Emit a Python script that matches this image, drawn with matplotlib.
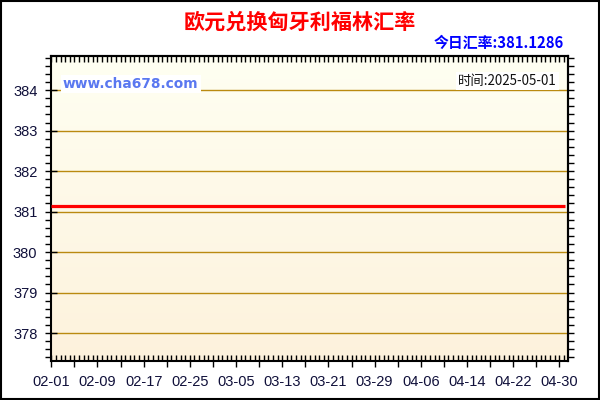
import numpy as np
import pandas as pd
import matplotlib
matplotlib.use("Agg")
import matplotlib.pyplot as plt
import matplotlib.dates as mdates
from matplotlib.ticker import MultipleLocator, FixedLocator, NullFormatter
from matplotlib.patches import Rectangle
from matplotlib.colors import LinearSegmentedColormap

# ================= DATA =================
title = "欧元兑换匈牙利福林汇率"
today_rate = "今日汇率:381.1286"
site = "www.cha678.com"
stamp = "时间:2025-05-01"

dates = ["2025-02-01", "2025-05-01"]
rates = [381.1286, 381.1286]
tick_labels = ["02-01", "02-09", "02-17", "02-25", "03-05", "03-13",
               "03-21", "03-29", "04-06", "04-14", "04-22", "04-30"]
y_ticks = [378, 379, 380, 381, 382, 383, 384]

cjk = ["Noto Sans CJK SC", "DejaVu Sans"]
plt.rcParams["font.family"] = ["Liberation Sans", "DejaVu Sans"]

x = pd.to_datetime(dates)
start = pd.Timestamp("2025-02-01")
xn = mdates.date2num(x)
x0 = mdates.date2num(start)

# ================= FIGURE =================
fig = plt.figure(figsize=(6, 4), dpi=100)
fig.patch.set_facecolor("white")
ax = fig.add_axes([51.3 / 600, 1 - 361 / 400, (568 - 51.3) / 600, (361 - 55.7) / 400])

# background gradient
cmap = LinearSegmentedColormap.from_list("bg", ["#fdf2dc", "#fffff2"])
ax.imshow(np.linspace(0, 1, 256).reshape(-1, 1), cmap=cmap, aspect="auto",
          extent=[0, 1, 0, 1], transform=ax.transAxes, origin="lower", zorder=0)

ax.set_xlim(x0, x0 + 89.5)
ax.set_ylim(377.31, 384.85)

for v in y_ticks:
    ax.axhline(v, color="#ba8a10", lw=1, zorder=1)

ax.plot(xn, rates, color="#ff0000", lw=2.3, zorder=3, solid_capstyle="butt")

# ---- ticks ----
major_x = [x0 + 4 * i for i in range(23)]
ax.xaxis.set_major_locator(FixedLocator(major_x))
ax.xaxis.set_minor_locator(MultipleLocator(0.8))
labels = []
for i in range(23):
    labels.append(tick_labels[i // 2] if i % 2 == 0 and i // 2 < len(tick_labels) else "")
ax.set_xticklabels(labels)
ax.yaxis.set_major_locator(FixedLocator(y_ticks))
ax.yaxis.set_minor_locator(MultipleLocator(0.2))
ax.yaxis.set_minor_formatter(NullFormatter())

ax.tick_params(axis="x", which="major", direction="inout", length=8, width=1,
               labelsize=10.5, labelcolor="#10103a", pad=6)
ax.tick_params(axis="x", which="minor", direction="in", length=4, width=1)
ax.tick_params(axis="y", which="major", direction="inout", length=8, width=1,
               labelsize=10.5, labelcolor="#10103a", pad=6)
ax.tick_params(axis="y", which="minor", direction="out", length=4, width=1)

for s in ax.spines.values():
    s.set_linewidth(1.5)
    s.set_color("black")

top = ax.secondary_xaxis("top")
top.xaxis.set_major_locator(MultipleLocator(0.8))
top.tick_params(direction="in", length=4, width=1, labeltop=False)
top.spines["top"].set_linewidth(1.5)

right = ax.secondary_yaxis("right")
right.yaxis.set_major_locator(MultipleLocator(0.2))
right.tick_params(direction="out", length=4, width=1, labelright=False)
right.spines["right"].set_linewidth(1.5)

# ---- texts ----
fig.text(0.5, 1 - 22 / 400, title, ha="center", va="center", color="#ff0000",
         fontsize=15.2, fontweight="bold", family=cjk)
fig.text(564 / 600, 1 - 43 / 400, today_rate, ha="right", va="center",
         color="#0000ff", fontsize=10.7, fontweight="bold", family=cjk)
ax.text(63 / 600, 1 - 84 / 400, site, transform=fig.transFigure, ha="left",
        va="center", color="#5a78f0", fontsize=9.9, fontweight="bold",
        family="DejaVu Sans", zorder=4,
        bbox=dict(facecolor="white", edgecolor="none", pad=1.5))
ax.text(557 / 600, 1 - 81 / 400, stamp, transform=fig.transFigure, ha="right",
        va="center", color="#111111", fontsize=9.6, family=cjk, zorder=4,
        bbox=dict(facecolor="white", edgecolor="none", pad=1.5))

# outer border
fig.patches.append(Rectangle((0.0015, 0.002), 0.997, 0.996, transform=fig.transFigure,
                             fill=False, edgecolor="black", lw=1.5))

plt.savefig("out.png", dpi=100)
